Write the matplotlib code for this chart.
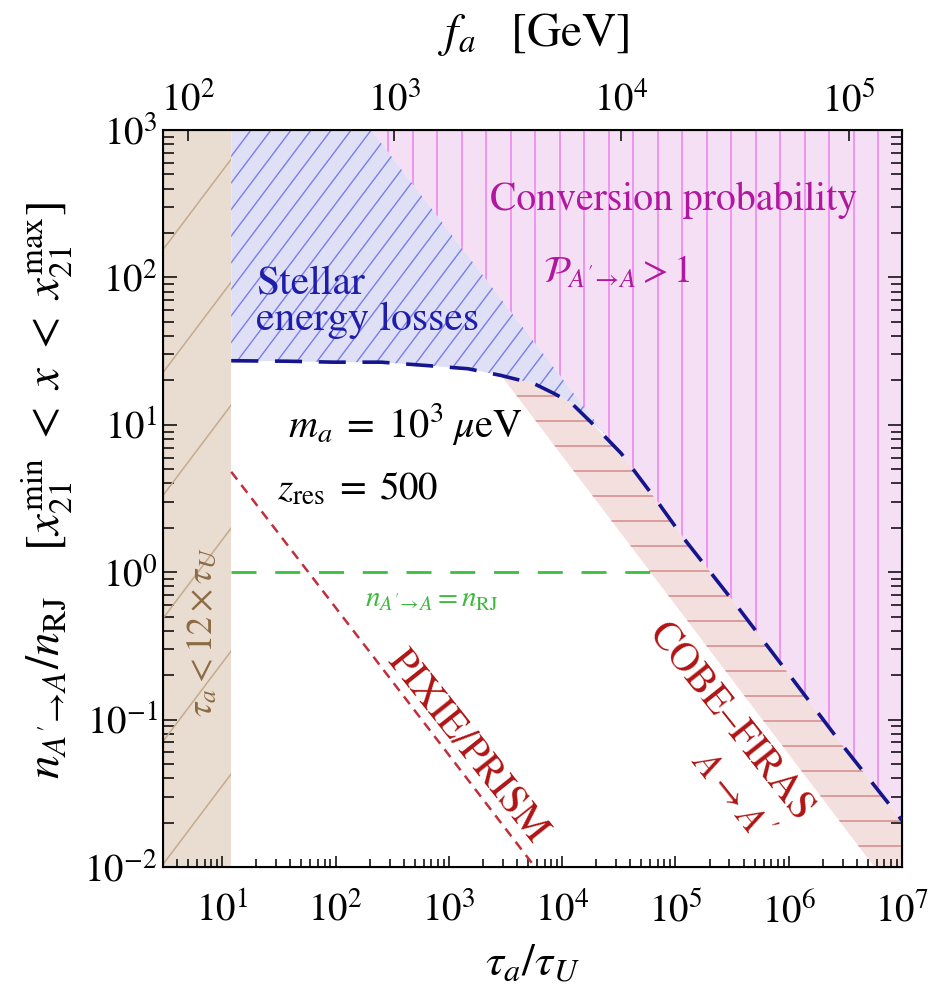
import numpy as np
import matplotlib
matplotlib.use('Agg')
import matplotlib.pyplot as plt
from matplotlib.patches import Polygon
from matplotlib.collections import LineCollection
from matplotlib.ticker import LogLocator, NullFormatter, FixedLocator, NullLocator

plt.rcParams['font.family'] = 'STIXGeneral'
plt.rcParams['mathtext.fontset'] = 'stix'
plt.rcParams['lines.scale_dashes'] = False
plt.rcParams['axes.unicode_minus'] = False

# axis ranges
tau_range = [3.0, 1.0e7]
n_range = [1.0e-2, 1.0e3]
tau_young = 12.0   # tau_a < 12 tau_U excluded

# lower edge of the stellar energy loss bound (blue dashed)
stellar_tau = [12, 38, 97, 252, 656, 1480, 2900, 5660, 8500, 12000, 18000,
               33200, 70300, 1.19e5, 3.57e5, 1.05e6, 3.08e6, 1.0e7]
stellar_n = [27.2, 27.0, 26.6, 26.6, 25.2, 24.0, 21.6, 19.0, 16.3, 14.1, 10.4,
             6.4, 2.97, 1.69, 0.577, 0.194, 0.0649, 0.0207]

# edge of the conversion probability > 1 region
prob_tau = [206.0, 2.4e4]
prob_n = [1000.0, 8.6]

# lower-left edge of the COBE-FIRAS band
firas_tau = [2900.0, 5.7e6]
firas_n = [21.6, 0.01]

# n = n_RJ
rj_tau = [12.0, 6.5e4]
rj_n = [1.0, 1.0]

# PIXIE/PRISM
pixie_tau = [12.0, 6000.0]
pixie_n = [4.8, 0.0096]

# top axis f_a [GeV]
fa_exp = [2, 3, 4, 5]
fa_tau = [5.03, 331.0, 3.32e4, 3.39e6]


W_PX, H_PX = 932, 994
fig = plt.figure(figsize=(9.32, 9.94), dpi=100)
AX_L, AX_R, AX_T, AX_B = 163, 902, 130, 867
ax = fig.add_axes([AX_L / W_PX, 1 - AX_B / H_PX, (AX_R - AX_L) / W_PX, (AX_B - AX_T) / H_PX])
ax.set_xscale('log')
ax.set_yscale('log')
ax.set_xlim(tau_range)
ax.set_ylim(n_range)


def px(x, y):
    # figure pixel -> axes fraction
    return (x - AX_L) / (AX_R - AX_L), (AX_B - y) / (AX_B - AX_T)


def hatch(patch, angle, spacing, color, lw, ref=(0, 0)):
    # parallel lines (pixel spacing) clipped to patch
    W = AX_R - AX_L
    H = AX_B - AX_T
    th = np.deg2rad(angle)
    d = np.array([np.cos(th), np.sin(th)])
    nrm = np.array([np.sin(th), -np.cos(th)])
    corners = np.array([[0, 0], [W, 0], [0, H], [W, H]])
    proj = corners @ nrm
    c0 = np.array(ref) @ nrm
    big = 2 * np.hypot(W, H)
    segs = []
    c = c0 + np.floor((proj.min() - c0) / spacing) * spacing
    while c <= proj.max() + spacing:
        p0 = c * nrm - big * d
        p1 = c * nrm + big * d
        segs.append([(p0[0] / W, p0[1] / H), (p1[0] / W, p1[1] / H)])
        c += spacing
    lc = LineCollection(segs, colors=color, linewidths=lw, transform=ax.transAxes,
                        zorder=patch.get_zorder() + 0.1)
    ax.add_collection(lc)
    lc.set_clip_path(patch)


stellar_pts = list(zip(stellar_tau, stellar_n))

# COBE-FIRAS band
firas_poly = [(firas_tau[0], firas_n[0]), (firas_tau[1], firas_n[1]), (tau_range[1], n_range[0])]
firas_poly += [p for p in stellar_pts[::-1] if p[0] >= firas_tau[0]]
salmon = Polygon(firas_poly, closed=True, facecolor='#f4dfdf', edgecolor='none', zorder=1)
ax.add_patch(salmon)
hatch(salmon, 0, 25, '#d48b8b', 1.1, ref=(0, 396.3))

# conversion probability > 1
pink_poly = [(prob_tau[0], prob_n[0]), (prob_tau[1], prob_n[1])]
pink_poly += [p for p in stellar_pts if p[0] > prob_tau[1]]
pink_poly += [(tau_range[1], n_range[1])]
pink = Polygon(pink_poly, closed=True, facecolor='#f4dff4', edgecolor='none', zorder=1)
ax.add_patch(pink)
hatch(pink, 90, 24.5, '#f080f0', 1.1, ref=(298.7, 0))

# stellar energy losses
blue_poly = [(tau_young, n_range[1]), (prob_tau[0], prob_n[0]), (prob_tau[1], prob_n[1])]
blue_poly += [p for p in stellar_pts[::-1] if p[0] < prob_tau[1]]
blue = Polygon(blue_poly, closed=True, facecolor='#dfe0f5', edgecolor='none', zorder=1)
ax.add_patch(blue)
hatch(blue, 53, 16, '#7c7cf0', 1.0, ref=(65.3, 653.7))

# tau_a < 12 tau_U
brown = Polygon([(tau_range[0], n_range[0]), (tau_young, n_range[0]),
                 (tau_young, n_range[1]), (tau_range[0], n_range[1])],
                closed=True, facecolor='#e9dcd0', edgecolor='none', zorder=1.5)
ax.add_patch(brown)
hatch(brown, 53, 74, '#c4ab8c', 1.1, ref=(66, 705))

# lines
ax.plot(pixie_tau, pixie_n, color='#c0303c', lw=1.8, dashes=(7, 5), zorder=3)
ax.plot(rj_tau, rj_n, color='#3cbf3c', lw=2.0, dashes=(18, 13.5), zorder=3)
ax.plot(stellar_tau, stellar_n, color='#15158e', lw=2.6, dashes=(19.5, 12), zorder=4)

# texts
ax.text(*px(256, 302), 'Stellar\nenergy losses', transform=ax.transAxes, color='#1e1eaa',
        fontsize=30, ha='left', va='center', linespacing=0.95, zorder=5)
ax.text(*px(490, 210), 'Conversion probability', transform=ax.transAxes, color='#b0189f',
        fontsize=28.5, ha='left', va='baseline', zorder=5)
ax.text(*px(543, 283), r"$\mathcal{P}_{A'\!\rightarrow\! A} > 1$", transform=ax.transAxes,
        color='#b0189f', fontsize=27, ha='left', va='baseline', zorder=5)
ax.text(*px(288, 437), r'$m_a\;=\;10^3\;\mu\mathrm{eV}$', transform=ax.transAxes,
        color='black', fontsize=29, ha='left', va='baseline', zorder=5)
ax.text(*px(277, 500), r'$z_{\rm res}\;=\;500$', transform=ax.transAxes, color='black',
        fontsize=28, ha='left', va='baseline', zorder=5)
ax.text(*px(365, 607), r"$n_{A'\!\rightarrow\! A} = n_{\rm RJ}$", transform=ax.transAxes,
        color='#3cb83c', fontsize=21, ha='left', va='baseline', zorder=5)
ax.text(*px(467, 747), 'PIXIE/PRISM', transform=ax.transAxes, color='#b01414',
        fontsize=29, ha='center', va='center', rotation=-51.5, rotation_mode='anchor', zorder=5)
ax.text(*px(731, 722), 'COBE\u2013FIRAS', transform=ax.transAxes, color='#b01414',
        fontsize=29, ha='center', va='center', rotation=-51.5, rotation_mode='anchor', zorder=5)
ax.text(*px(730, 797), r"$A \rightarrow A'$", transform=ax.transAxes, color='#b01414',
        fontsize=27, ha='center', va='center', rotation=-51.5, rotation_mode='anchor', zorder=5)
ax.text(*px(203, 632), r'$\tau_a < 12 \times \tau_U$', transform=ax.transAxes, color='#8b6b45',
        fontsize=26, ha='center', va='center', rotation=90, zorder=5)

# ticks: only decades inside the view
x_dec = np.arange(np.ceil(np.log10(tau_range[0])), np.floor(np.log10(tau_range[1])) + 1)
y_dec = np.arange(np.ceil(np.log10(n_range[0])), np.floor(np.log10(n_range[1])) + 1)
ax.xaxis.set_major_locator(FixedLocator(10.0 ** x_dec))
ax.yaxis.set_major_locator(FixedLocator(10.0 ** y_dec))
ax.xaxis.set_minor_locator(LogLocator(base=10, subs=np.arange(2, 10), numticks=20))
ax.yaxis.set_minor_locator(LogLocator(base=10, subs=np.arange(2, 10), numticks=20))
ax.set_xticklabels([r'$10^{%d}$' % e for e in x_dec])
ax.set_yticklabels([r'$10^{%d}$' % e for e in y_dec])
ax.xaxis.set_minor_formatter(NullFormatter())
ax.yaxis.set_minor_formatter(NullFormatter())
ax.tick_params(which='both', direction='in', top=False, right=True, width=1.1)
ax.tick_params(axis='x', which='major', length=8, labelsize=28, pad=18)
ax.tick_params(axis='x', which='minor', length=5.5)
ax.tick_params(axis='y', which='major', length=10, labelsize=28, pad=4)
ax.tick_params(axis='y', which='minor', length=8)
for s in ax.spines.values():
    s.set_linewidth(1.5)

top = ax.twiny()
top.set_xscale('log')
top.set_xlim(tau_range)
top.xaxis.set_major_locator(FixedLocator(fa_tau))
top.xaxis.set_minor_locator(NullLocator())
top.set_xticklabels([r'$10^{%d}$' % e for e in fa_exp])
top.tick_params(axis='x', direction='in', length=8, width=1.1, labelsize=28, pad=8)

fig.text(534 / W_PX, 1 - 35 / H_PX, r'$f_a\ \ \ [\mathrm{GeV}]$', fontsize=34,
         ha='center', va='center')
fig.text(533 / W_PX, 1 - 965 / H_PX, r'$\tau_a/\tau_U$', fontsize=33, ha='center', va='center')
fig.text(47 / W_PX, 1 - 490 / H_PX,
         r"$n_{A'\!\rightarrow\! A}/n_{\rm RJ}\ \ \ \ [x_{21}^{\rm min}\ <\ x\ <\ x_{21}^{\rm max}]$",
         fontsize=34, ha='center', va='center', rotation=90)

fig.savefig('out.png', dpi=100)
